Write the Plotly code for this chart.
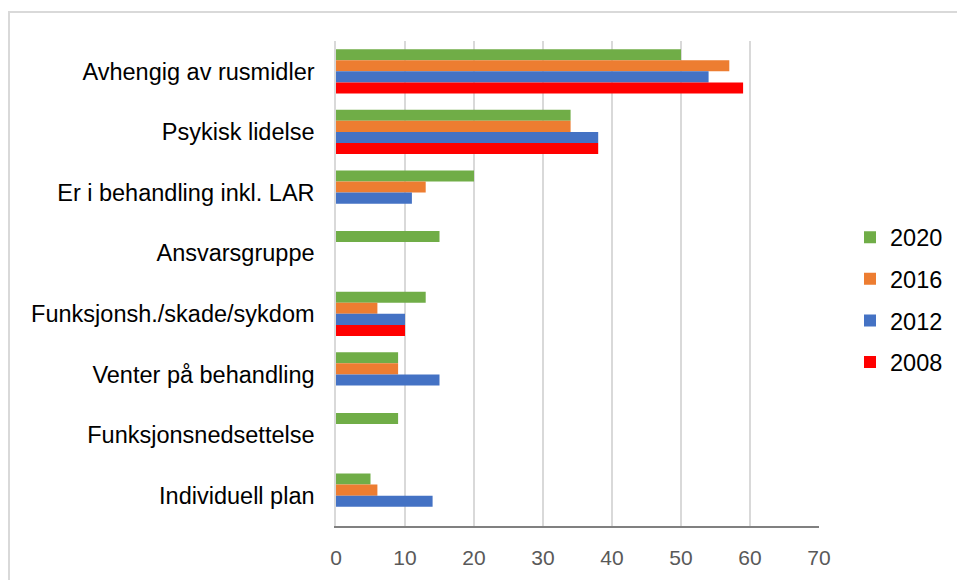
import plotly.graph_objects as go

categories = [
    "Avhengig av rusmidler",
    "Psykisk lidelse",
    "Er i behandling inkl. LAR",
    "Ansvarsgruppe",
    "Funksjonsh./skade/sykdom",
    "Venter på behandling",
    "Funksjonsnedsettelse",
    "Individuell plan",
]
years = ["2020", "2016", "2012", "2008"]
v2020 = [50, 34, 20, 15, 13, 9, 9, 5]
v2016 = [57, 34, 13, None, 6, 9, None, 6]
v2012 = [54, 38, 11, None, 10, 15, None, 14]
v2008 = [59, 38, None, None, 10, None, None, None]
x_ticks = [0, 10, 20, 30, 40, 50, 60, 70]

series = [v2020, v2016, v2012, v2008]
colors = ["#70AD47", "#ED7D31", "#4472C4", "#FF0000"]

fig = go.Figure()
for name, vals, col in zip(years, series, colors):
    fig.add_trace(go.Bar(
        y=categories, x=vals, name=name, orientation="h",
        marker=dict(color=col, line=dict(width=0)),
        legendgroup=name,
    ))

W, H = 957, 580
L, R, T, B = 336, 819, 41, 526
pw, ph = R - L, B - T

def px_to_paper_x(px):
    return (px - L) / pw

def px_to_paper_y(py):
    return (B - py) / ph

fig.update_layout(
    width=W, height=H,
    margin=dict(l=L, r=W - R, t=T, b=H - B, pad=0, autoexpand=False),
    paper_bgcolor="white", plot_bgcolor="white",
    barmode="group", bargap=0.27, bargroupgap=0,
    font=dict(family="Liberation Sans, Arial, sans-serif", color="#000000"),
    showlegend=True,
    legend=dict(
        xref="container", yref="container",
        x=850 / W, xanchor="left",
        y=1 - 300 / H, yanchor="middle",
        font=dict(size=23.5, color="#000000"),
        traceorder="grouped", tracegroupgap=8,
        itemwidth=30,
        bgcolor="rgba(0,0,0,0)",
    ),
    xaxis=dict(
        range=[0, 70], tickvals=x_ticks, ticktext=[str(t) for t in x_ticks],
        showgrid=True, gridcolor="#D9D9D9", gridwidth=1.5,
        zeroline=False, showline=True, linecolor="#808080", linewidth=2,
        tickfont=dict(size=21, color="#595959"), ticks="",
        ticklabelstandoff=12, fixedrange=True, automargin=False,
    ),
    yaxis=dict(
        categoryorder="array", categoryarray=categories,
        autorange="reversed",
        showgrid=False, zeroline=False, showline=True,
        linecolor="#D9D9D9", linewidth=1.5,
        tickfont=dict(size=23.5, color="#000000"), ticks="",
        ticklabelstandoff=15, automargin=False, fixedrange=True,
    ),
    shapes=[dict(
        type="rect", xref="paper", yref="paper",
        x0=px_to_paper_x(9), x1=px_to_paper_x(1100),
        y0=px_to_paper_y(700), y1=px_to_paper_y(12),
        line=dict(color="#D9D9D9", width=2), fillcolor="rgba(0,0,0,0)",
        layer="below",
    )],
)

fig.write_html(
    "out.html",
    config={"displayModeBar": False},
    post_script="document.body.style.margin='0';document.body.style.overflow='hidden';",
)
